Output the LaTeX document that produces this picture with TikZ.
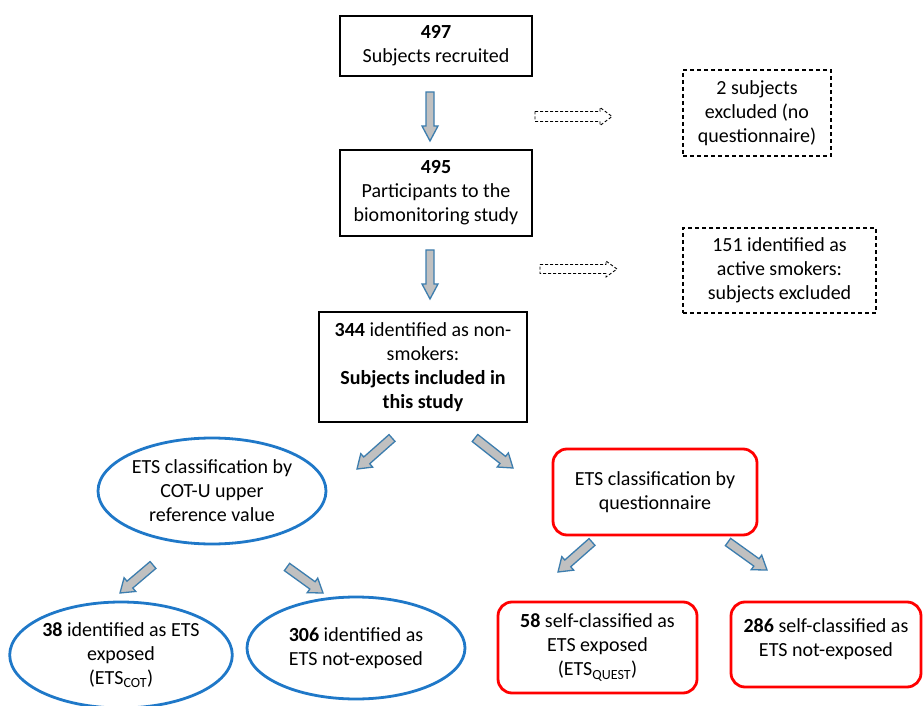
\documentclass[tikz,border=0pt]{standalone}
\usepackage{fontspec}
\setmainfont{Carlito}
\usetikzlibrary{calc,shapes.geometric}
\definecolor{ellblue}{HTML}{1F78C8}
\definecolor{boxred}{HTML}{FF0000}
\definecolor{arrblue}{HTML}{3C7DAE}
\definecolor{arrgray}{HTML}{C0C0C0}
\newcommand\blockarr[6][]{%
  \coordinate (bah) at ($(#3)!#6!(#2)$);
  \draw[#1] ($(#2)!#4!90:(#3)$) -- ($(bah)!#4!-90:(#2)$) -- ($(bah)!#5!-90:(#2)$) -- (#3)
    -- ($(bah)!#5!90:(#2)$) -- ($(bah)!#4!90:(#2)$) -- ($(#2)!#4!-90:(#3)$) -- cycle;}
\begin{document}
\begin{tikzpicture}[x=1pt,y=1pt,
  every node/.style={font=\fontsize{20}{24}\selectfont, align=center, inner sep=0pt},
  blackbox/.style={draw=black, line width=1.4pt, rectangle},
  dashbox/.style={draw=black, line width=1.1pt, dashed, dash pattern=on 4pt off 3pt, rectangle},
  blueell/.style={draw=ellblue, line width=2.8pt, ellipse},
  redbox/.style={draw=boxred, line width=2.8pt, rectangle, rounded corners=14pt},
  thickarr/.style={draw=arrblue, fill=arrgray, line width=1.3pt, line join=miter},
  dasharr/.style={draw=black, line width=0.9pt, dash pattern=on 3pt off 2pt, fill=white}]
\useasboundingbox (0,0) rectangle (923,705);
\fill[white] (0,0) rectangle (923,705);
% main boxes
\node[blackbox, minimum width=192, minimum height=60] (b1) at (436,659) {\textbf{497}\\Subjects recruited};
\node[blackbox, minimum width=192, minimum height=86] (b2) at (436,512) {\textbf{495}\\Participants to the\\biomonitoring study};
\node[blackbox, minimum width=208, minimum height=110] (b3) at (423,338) {\textbf{344} identified as non-\\smokers:\\\textbf{Subjects included in}\\\textbf{this study}};
% excluded
\node[dashbox, minimum width=148, minimum height=86] (x1) at (757,592) {2 subjects\\excluded (no\\questionnaire)};
\node[dashbox, minimum width=193, minimum height=85] (x2) at (779.5,434.5) {151 identified as\\active smokers:\\subjects excluded};
% classification
\node[blueell, minimum width=228, minimum height=106] (e1) at (212,214) {ETS classification by\\COT-U upper\\reference value};
\node[redbox, minimum width=204, minimum height=86] (r1) at (655,213) {ETS classification by\\questionnaire};
% outcomes
\node[blueell, minimum width=218, minimum height=106] (e2) at (121,50) {\textbf{38} identified as ETS\\exposed\\(ETS\textsubscript{COT})};
\node[blueell, minimum width=218, minimum height=102] (e3) at (356,57) {\textbf{306} identified as\\ETS not-exposed};
\node[redbox, minimum width=199, minimum height=91] (r2) at (597.5,57.5) {\textbf{58} self-classified as\\ETS exposed\\(ETS\textsubscript{QUEST})};
\node[redbox, minimum width=190, minimum height=85] (r3) at (826,60.5) {\textbf{286} self-classified as\\ETS not-exposed\\[-10pt]\mbox{}};
% arrow coordinates
\coordinate (a1s) at (430,613); \coordinate (a1e) at (430,564);
\coordinate (a2s) at (430,455); \coordinate (a2e) at (430,406);
\coordinate (a3s) at (392,267); \coordinate (a3e) at (357,236);
\coordinate (a4s) at (475,267); \coordinate (a4e) at (513,237);
\coordinate (a5s) at (153,140); \coordinate (a5e) at (120,112);
\coordinate (a6s) at (287,138); \coordinate (a6e) at (323,112);
\coordinate (a7s) at (592,163); \coordinate (a7e) at (558,133);
\coordinate (a8s) at (728,163); \coordinate (a8e) at (767,135);
\coordinate (d1s) at (535,588.5); \coordinate (d1e) at (612,588.5);
\coordinate (d2s) at (540,436); \coordinate (d2e) at (617,436);
\blockarr[thickarr]{a1s}{a1e}{4pt}{8pt}{15pt}
\blockarr[thickarr]{a2s}{a2e}{4pt}{8pt}{15pt}
\blockarr[thickarr]{a3s}{a3e}{4.5pt}{9pt}{13pt}
\blockarr[thickarr]{a4s}{a4e}{4.5pt}{9pt}{13pt}
\blockarr[thickarr]{a5s}{a5e}{4.5pt}{9pt}{13pt}
\blockarr[thickarr]{a6s}{a6e}{4.5pt}{9pt}{13pt}
\blockarr[thickarr]{a7s}{a7e}{4.5pt}{9pt}{13pt}
\blockarr[thickarr]{a8s}{a8e}{4.5pt}{9pt}{13pt}
\blockarr[dasharr]{d1s}{d1e}{5pt}{9pt}{12pt}
\blockarr[dasharr]{d2s}{d2e}{4.5pt}{8pt}{11pt}
\end{tikzpicture}
\end{document}
